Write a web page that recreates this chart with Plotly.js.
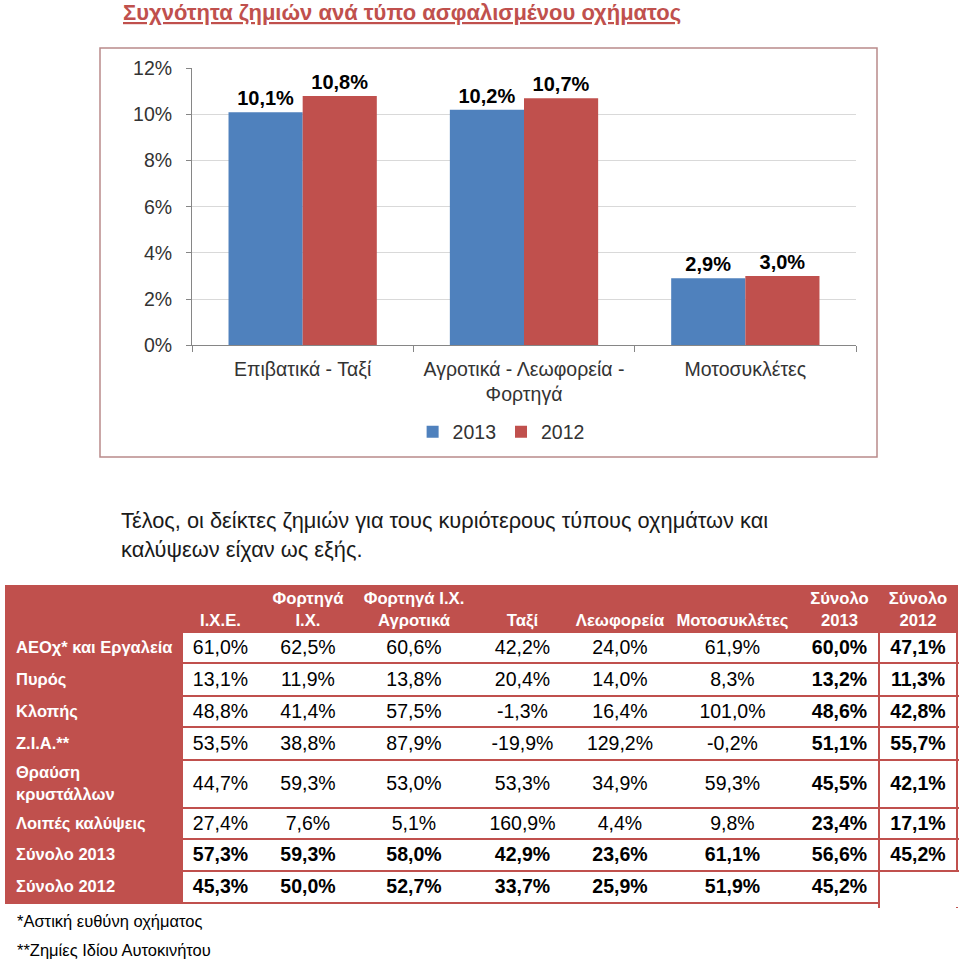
<!DOCTYPE html>
<html><head><meta charset="utf-8">
<script src="https://cdn.plot.ly/plotly-3.0.1.min.js"></script>
<style>html,body{margin:0;padding:0;background:#fff}</style>
</head><body><div id="chart" style="width:960px;height:963px"></div>
<script>
// ---- Bar chart data ----
const barCategories = ['Επιβατικά - Ταξί', 'Αγροτικά - Λεωφορεία -<br>Φορτηγά', 'Μοτοσυκλέτες'];
const freq2013 = [10.1, 10.2, 2.9];
const freq2012 = [10.8, 10.7, 3.0];
const yTicks = [0, 2, 4, 6, 8, 10, 12];

// ---- Table data ----
const tableHeaders = ['', 'Ι.Χ.Ε.', 'Φορτηγά<br>Ι.Χ.', 'Φορτηγά Ι.Χ.<br>Αγροτικά', 'Ταξί', 'Λεωφορεία', 'Μοτοσυκλέτες', 'Σύνολο<br>2013', 'Σύνολο<br>2012'];
const coverageRows = ['ΑΕΟχ* και Εργαλεία', 'Πυρός', 'Κλοπής', 'Ζ.Ι.Α.**', 'Θραύση<br>κρυστάλλων', 'Λοιπές καλύψεις', 'Σύνολο 2013', 'Σύνολο 2012'];
const colIXE       = [61.0, 13.1, 48.8, 53.5, 44.7, 27.4, 57.3, 45.3];
const colTruckIX   = [62.5, 11.9, 41.4, 38.8, 59.3, 7.6, 59.3, 50.0];
const colTruckAgr  = [60.6, 13.8, 57.5, 87.9, 53.0, 5.1, 58.0, 52.7];
const colTaxi      = [42.2, 20.4, -1.3, -19.9, 53.3, 160.9, 42.9, 33.7];
const colBus       = [24.0, 14.0, 16.4, 129.2, 34.9, 4.4, 23.6, 25.9];
const colMoto      = [61.9, 8.3, 101.0, -0.2, 59.3, 9.8, 61.1, 51.9];
const colTotal2013 = [60.0, 13.2, 48.6, 51.1, 45.5, 23.4, 56.6, 45.2];
const colTotal2012 = [47.1, 11.3, 42.8, 55.7, 42.1, 17.1, 45.2, null];

// ---- Table geometry (layout, in page pixels) ----
const colEdges = [5, 183, 258, 358, 470, 575, 665, 800, 879, 957];
const rowEdges = [585, 633, 663, 696, 727, 760, 808, 839, 871, 903];

const RED = '#C0504D', BLUE = '#4F81BD';
const SANS = 'Liberation Sans, Arial, sans-serif';

function fmt(v) { return (v === null) ? '' : v.toFixed(1).replace('.', ',') + '%'; }
function mid(a, i) { return (a[i] + a[i + 1]) / 2; }

const dataCols = [colIXE, colTruckIX, colTruckAgr, colTaxi, colBus, colMoto, colTotal2013, colTotal2012];
const nCols = tableHeaders.length, nRows = coverageRows.length;

// cell fills: 1 = red (header + label column), null = white/transparent
const fillZ = [];
for (let r = 0; r <= nRows; r++) {
  const row = [];
  for (let c = 0; c < nCols; c++) row.push(r === 0 || c === 0 ? 1 : null);
  fillZ.push(row);
}

// header texts
const hx = [], hy = [], ht = [];
tableHeaders.forEach((h, c) => {
  if (!h) return;
  hx.push(mid(colEdges, c)); hy.push(rowEdges[1] - 3);
  ht.push(h.split('<br>').map(s => '<b>' + s + '</b>').join('<br>'));
});
// row label texts
const lx = [], ly = [], lt = [];
coverageRows.forEach((s, r) => {
  lx.push(colEdges[0] + 11); ly.push(mid(rowEdges, r + 1) + 1);
  lt.push(s.split('<br>').map(p => '<b>' + p + '</b>').join('<br>'));
});
// value texts
const vx = [], vy = [], vt = [];
dataCols.forEach((col, ci) => {
  col.forEach((v, ri) => {
    if (v === null) return;
    const t = fmt(v);
    vx.push(mid(colEdges, ci + 1)); vy.push(mid(rowEdges, ri + 1) + 1.5);
    vt.push(ci >= 6 || ri >= 6 ? '<b>' + t + '</b>' : t);
  });
});

const traces = [
  { type: 'bar', name: '2013', x: barCategories, y: freq2013, marker: { color: BLUE },
    text: freq2013.map(fmt), texttemplate: '<b>%{text}</b>', textposition: 'outside',
    textfont: { size: 20, color: '#000', family: SANS }, cliponaxis: false, hoverinfo: 'none' },
  { type: 'bar', name: '2012', x: barCategories, y: freq2012, marker: { color: RED },
    text: freq2012.map(fmt), texttemplate: '<b>%{text}</b>', textposition: 'outside',
    textfont: { size: 20, color: '#000', family: SANS }, cliponaxis: false, hoverinfo: 'none' },
  // table fills
  { type: 'heatmap', xaxis: 'x2', yaxis: 'y2', x: colEdges, y: rowEdges, z: fillZ,
    colorscale: [[0, 'white'], [1, RED]], zmin: 0, zmax: 1, showscale: false, hoverinfo: 'none', showlegend: false },
  // blank corner (no borders)
  { type: 'heatmap', xaxis: 'x2', yaxis: 'y2',
    x: [colEdges[nCols - 1] + 1, colEdges[nCols] + 3], y: [rowEdges[nRows] + 1, rowEdges[nRows + 1] + 4], z: [[0]],
    colorscale: [[0, 'white'], [1, 'white']], zmin: 0, zmax: 1, showscale: false, hoverinfo: 'none', showlegend: false },
  { type: 'scatter', mode: 'text', xaxis: 'x2', yaxis: 'y2', x: hx, y: hy, text: ht,
    textposition: 'top center', textfont: { family: SANS, size: 16.7, color: 'white' },
    hoverinfo: 'none', showlegend: false, cliponaxis: false },
  { type: 'scatter', mode: 'text', xaxis: 'x2', yaxis: 'y2', x: lx, y: ly, text: lt,
    textposition: 'middle right', textfont: { family: SANS, size: 16.5, color: 'white' },
    hoverinfo: 'none', showlegend: false, cliponaxis: false },
  { type: 'scatter', mode: 'text', xaxis: 'x2', yaxis: 'y2', x: vx, y: vy, text: vt,
    textposition: 'middle center', textfont: { family: SANS, size: 19.5, color: '#000' },
    hoverinfo: 'none', showlegend: false, cliponaxis: false }
];

const layout = {
  width: 960, height: 963,
  margin: { l: 0, r: 0, t: 0, b: 0 },
  paper_bgcolor: 'white', plot_bgcolor: 'white',
  font: { family: SANS, size: 19.5, color: '#333' },
  barmode: 'group', bargap: 0.33, bargroupgap: 0,
  showlegend: true,
  legend: { orientation: 'h', x: 0.522, xanchor: 'center', y: 1 - 432 / 963, yanchor: 'middle',
    font: { size: 19.5, color: '#333' }, itemwidth: 30, traceorder: 'normal' },
  xaxis: { domain: [192 / 960, 856 / 960], showline: true, linecolor: '#868686', linewidth: 1,
    ticks: 'outside', tickson: 'boundaries', ticklen: 6, tickcolor: '#868686',
    tickfont: { size: 19.5, color: '#333' }, ticklabelstandoff: 6, fixedrange: true },
  yaxis: { domain: [1 - 345.3 / 963, 1 - 68.3 / 963], range: [0, 12],
    tickmode: 'array', tickvals: yTicks, ticktext: yTicks.map(v => v + '%'),
    showgrid: true, gridcolor: '#D9D9D9', gridwidth: 1, showline: true, linecolor: '#868686',
    ticks: 'outside', ticklen: 5, tickcolor: '#868686', zeroline: false,
    tickfont: { size: 19.5, color: '#333' }, ticklabelstandoff: 10, fixedrange: true },
  xaxis2: { domain: [5 / 960, 959 / 960], range: [5, 959], anchor: 'y2',
    tickmode: 'array', tickvals: [colEdges[nCols - 1], colEdges[nCols]],
    showgrid: true, gridcolor: RED, gridwidth: 2, showticklabels: false, ticks: '',
    zeroline: false, showline: false, fixedrange: true },
  yaxis2: { domain: [1 - 908 / 963, 1 - 585 / 963], range: [908, 585], anchor: 'x2',
    tickmode: 'array', tickvals: rowEdges.slice(2),
    showgrid: true, gridcolor: RED, gridwidth: 2, showticklabels: false, ticks: '',
    zeroline: false, showline: false, fixedrange: true },
  shapes: [
    { type: 'rect', xref: 'paper', yref: 'paper', x0: 100 / 960, x1: 877 / 960, y0: 1 - 457 / 963, y1: 1 - 48 / 963,
      line: { color: '#B98A8A', width: 1.5 }, fillcolor: 'rgba(0,0,0,0)', layer: 'below' }
  ],
  annotations: [
    { text: '<b><u>Συχνότητα ζημιών ανά τύπο ασφαλισμένου οχήματος</u></b>', xref: 'paper', yref: 'paper',
      x: 121 / 960, xanchor: 'left', y: 1 - 13 / 963, yanchor: 'middle', showarrow: false,
      font: { size: 22, color: RED, family: SANS } },
    { text: 'Τέλος, οι δείκτες ζημιών για τους κυριότερους τύπους οχημάτων και', xref: 'paper', yref: 'paper',
      x: 119 / 960, xanchor: 'left', y: 1 - 520 / 963, yanchor: 'middle', showarrow: false,
      font: { size: 21.8, color: '#1a1a1a', family: SANS } },
    { text: 'καλύψεων είχαν ως εξής.', xref: 'paper', yref: 'paper',
      x: 119 / 960, xanchor: 'left', y: 1 - 549 / 963, yanchor: 'middle', showarrow: false,
      font: { size: 21.8, color: '#1a1a1a', family: SANS } },
    { text: '*Αστική ευθύνη οχήματος', xref: 'paper', yref: 'paper',
      x: 15 / 960, xanchor: 'left', y: 1 - 921 / 963, yanchor: 'middle', showarrow: false,
      font: { size: 16.5, color: '#000', family: SANS } },
    { text: '**Ζημίες Ιδίου Αυτοκινήτου', xref: 'paper', yref: 'paper',
      x: 15 / 960, xanchor: 'left', y: 1 - 950 / 963, yanchor: 'middle', showarrow: false,
      font: { size: 16.5, color: '#000', family: SANS } }
  ]
};

Plotly.newPlot('chart', traces, layout, { displayModeBar: false, staticPlot: true });
</script>
</body></html>
